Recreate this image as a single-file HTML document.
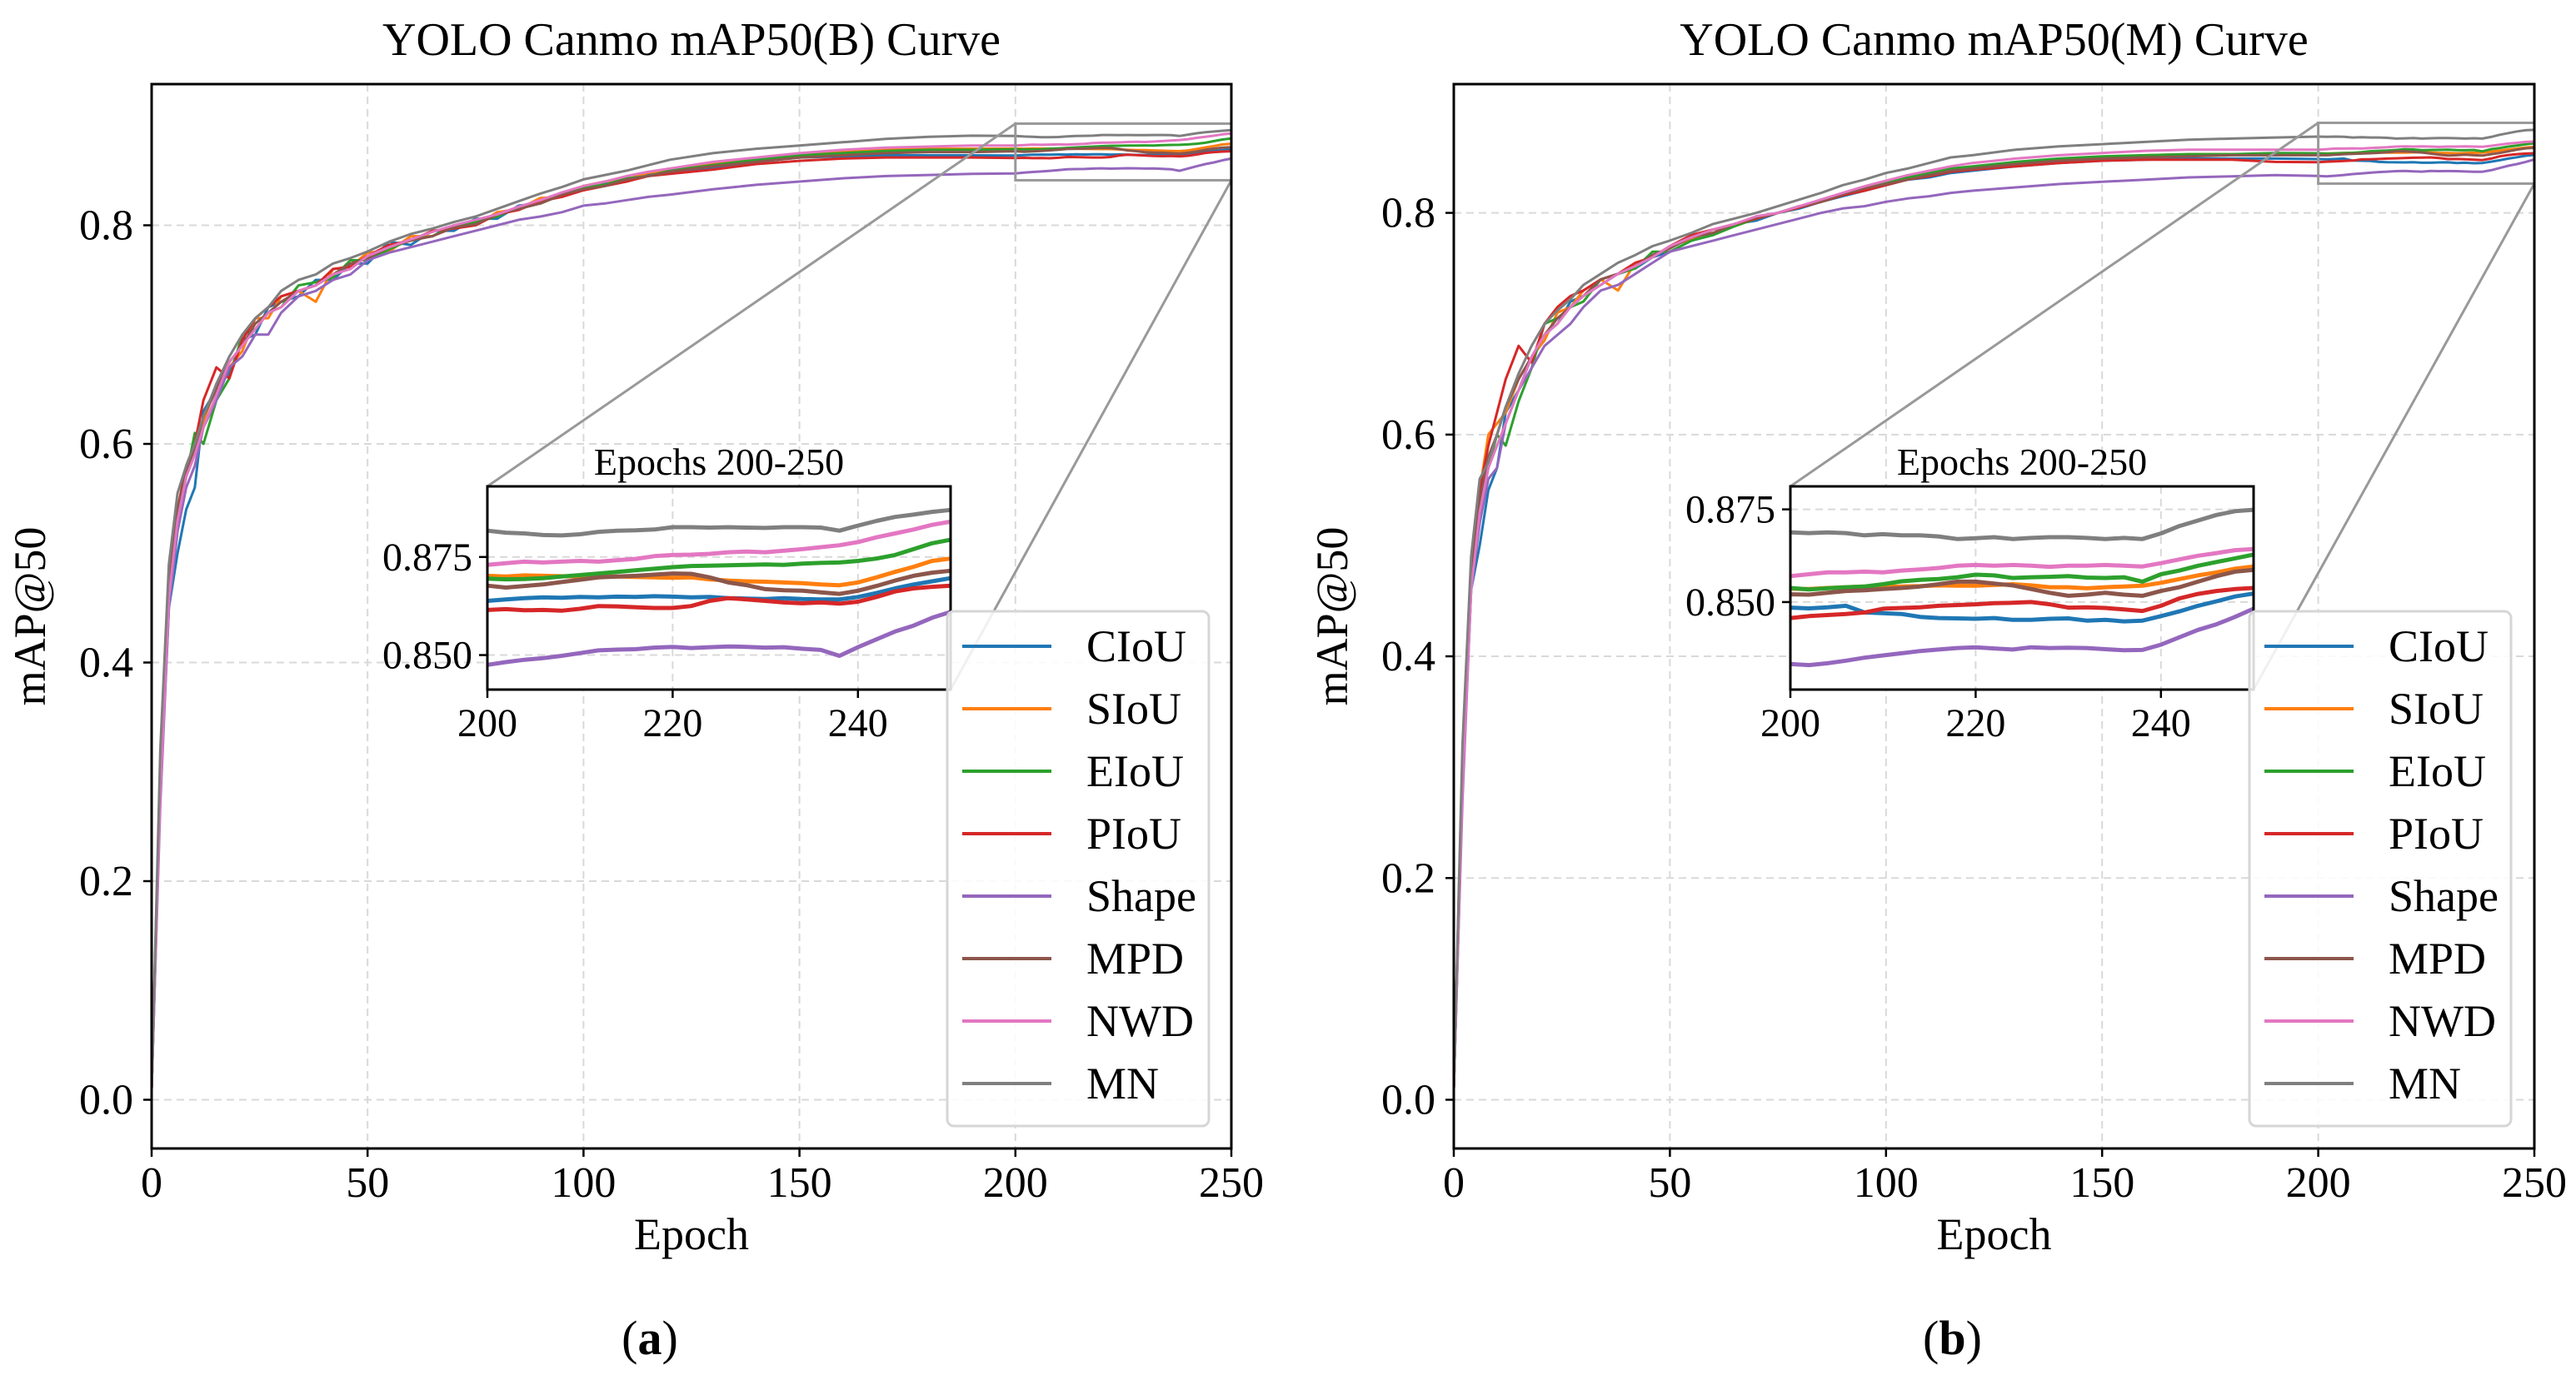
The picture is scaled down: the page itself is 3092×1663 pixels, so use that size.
<!DOCTYPE html>
<html><head><meta charset="utf-8"><style>
html,body{margin:0;padding:0;background:#fff;}
svg{display:block;font-family:"Liberation Serif","DejaVu Serif",serif;}
</style></head><body>
<svg id="fig" width="3092" height="1663" viewBox="0 0 3092 1663" xmlns="http://www.w3.org/2000/svg"></svg>
<script>
const seriesNames = ["CIoU","SIoU","EIoU","PIoU","Shape","MPD","NWD","MN"];
const seriesColors = ["#1f77b4","#ff7f0e","#2ca02c","#d62728","#9467bd","#8c564b","#e377c2","#7f7f7f"];
const mainEpochs = [0,2,4,6,8,10,12,15,18,21,24,27,30,34,38,42,46,50,55,60,65,70,75,80,85,90,95,100,105,110,115,120,130,140,150,160,170,180,190];
const insetEpochs = [200,202,204,206,208,210,212,214,216,218,220,222,224,226,228,230,232,234,236,238,240,242,244,246,248,250];
const xTicksMain = [0,50,100,150,200,250];
const yTicksMain = [0.0,0.2,0.4,0.6,0.8];
const yTickLabelsMain = ["0.0","0.2","0.4","0.6","0.8"];
const xTicksInset = [200,220,240];
const yTicksInset = [0.850,0.875];
const yTickLabelsInset = ["0.850","0.875"];

// Panel (a) mAP50(B)
const aCIoU  = [0.01,0.28,0.45,0.50,0.54,0.56,0.63,0.65,0.665,0.695,0.70,0.725,0.73,0.735,0.75,0.75,0.765,0.765,0.785,0.782,0.795,0.795,0.806,0.806,0.818,0.82,0.83,0.832,0.838,0.84,0.846,0.848,0.853,0.858,0.862,0.863,0.864,0.864,0.864];
const aSIoU  = [0.01,0.31,0.46,0.54,0.58,0.60,0.62,0.655,0.67,0.685,0.715,0.715,0.735,0.74,0.73,0.76,0.762,0.775,0.776,0.79,0.79,0.80,0.80,0.812,0.815,0.825,0.826,0.836,0.84,0.842,0.848,0.851,0.857,0.861,0.865,0.867,0.869,0.870,0.870];
const aEIoU  = [0.01,0.29,0.47,0.53,0.57,0.61,0.60,0.64,0.66,0.70,0.705,0.72,0.725,0.745,0.748,0.752,0.768,0.768,0.778,0.787,0.79,0.80,0.803,0.808,0.817,0.82,0.828,0.835,0.837,0.843,0.845,0.85,0.855,0.86,0.864,0.866,0.868,0.869,0.869];
const aPIoU  = [0.01,0.30,0.46,0.54,0.58,0.60,0.64,0.67,0.66,0.695,0.715,0.725,0.735,0.74,0.745,0.76,0.762,0.772,0.782,0.786,0.795,0.797,0.80,0.81,0.814,0.822,0.826,0.832,0.836,0.84,0.845,0.847,0.851,0.856,0.859,0.861,0.862,0.862,0.862];
const aShape = [0.01,0.27,0.45,0.52,0.56,0.58,0.615,0.64,0.67,0.68,0.70,0.70,0.72,0.735,0.74,0.75,0.755,0.768,0.775,0.78,0.785,0.79,0.795,0.80,0.805,0.808,0.812,0.818,0.82,0.823,0.826,0.828,0.833,0.837,0.84,0.843,0.845,0.846,0.847];
const aMPD   = [0.01,0.30,0.47,0.54,0.575,0.595,0.625,0.65,0.675,0.69,0.71,0.72,0.73,0.74,0.745,0.755,0.765,0.77,0.78,0.786,0.79,0.798,0.801,0.81,0.815,0.82,0.828,0.833,0.836,0.842,0.845,0.849,0.854,0.858,0.862,0.864,0.866,0.867,0.867];
const aNWD   = [0.01,0.28,0.46,0.53,0.57,0.59,0.615,0.645,0.675,0.69,0.705,0.72,0.725,0.74,0.745,0.755,0.76,0.772,0.78,0.787,0.794,0.80,0.805,0.81,0.817,0.823,0.83,0.836,0.84,0.845,0.849,0.852,0.858,0.862,0.866,0.869,0.871,0.872,0.873];
const aMN    = [0.01,0.32,0.49,0.555,0.58,0.60,0.625,0.655,0.68,0.70,0.715,0.725,0.74,0.75,0.755,0.765,0.77,0.776,0.785,0.792,0.797,0.803,0.808,0.815,0.822,0.829,0.835,0.842,0.846,0.85,0.855,0.86,0.866,0.87,0.873,0.876,0.879,0.881,0.882];
const aiCIoU  = [.8638,.8642,.8645,.8647,.8646,.8648,.8647,.8649,.8648,.8650,.8649,.8647,.8648,.8645,.8644,.8643,.8645,.8643,.8642,.8642,.8648,.8658,.8670,.8680,.8688,.8696];
const aiSIoU  = [.8702,.8700,.8703,.8702,.8701,.8700,.8701,.8700,.8699,.8698,.8697,.8698,.8693,.8690,.8688,.8687,.8685,.8683,.8680,.8678,.8685,.8698,.8712,.8725,.8740,.8746];
const aiEIoU  = [.8695,.8693,.8694,.8696,.8700,.8704,.8708,.8712,.8716,.8720,.8724,.8727,.8728,.8729,.8730,.8731,.8730,.8733,.8735,.8736,.8740,.8746,.8755,.8770,.8785,.8794];
const aiPIoU  = [.8615,.8617,.8614,.8615,.8613,.8618,.8625,.8624,.8622,.8620,.8620,.8625,.8638,.8645,.8642,.8638,.8634,.8632,.8634,.8631,.8636,.8648,.8662,.8670,.8674,.8677];
const aiShape = [.8475,.8482,.8488,.8492,.8498,.8505,.8512,.8514,.8515,.8519,.8521,.8518,.8520,.8522,.8521,.8519,.8520,.8516,.8513,.8498,.8520,.8540,.8560,.8575,.8595,.8610];
const aiMPD   = [.8677,.8672,.8676,.8680,.8686,.8692,.8698,.8700,.8702,.8705,.8708,.8707,.8698,.8685,.8678,.8668,.8665,.8664,.8660,.8656,.8664,.8676,.8690,.8702,.8710,.8715];
const aiNWD   = [.8730,.8734,.8738,.8736,.8738,.8740,.8738,.8742,.8745,.8752,.8755,.8756,.8758,.8762,.8764,.8762,.8766,.8770,.8775,.8780,.8788,.8800,.8810,.8820,.8832,.8840];
const aiMN    = [.8817,.8812,.8810,.8806,.8805,.8808,.8814,.8817,.8818,.8820,.8826,.8826,.8825,.8826,.8825,.8824,.8826,.8826,.8825,.8817,.8830,.8842,.8852,.8858,.8865,.8870];

// Panel (b) mAP50(M)
const bCIoU  = [0.01,0.28,0.46,0.50,0.55,0.57,0.62,0.64,0.67,0.69,0.70,0.72,0.725,0.735,0.745,0.75,0.76,0.765,0.775,0.78,0.79,0.793,0.80,0.804,0.81,0.815,0.82,0.825,0.83,0.832,0.836,0.838,0.842,0.845,0.847,0.848,0.849,0.849,0.849];
const bSIoU  = [0.01,0.31,0.47,0.55,0.60,0.61,0.62,0.65,0.67,0.685,0.71,0.715,0.73,0.74,0.73,0.755,0.76,0.77,0.776,0.785,0.788,0.795,0.80,0.805,0.81,0.817,0.82,0.826,0.83,0.835,0.838,0.841,0.845,0.848,0.85,0.852,0.853,0.853,0.853];
const bEIoU  = [0.01,0.29,0.47,0.53,0.57,0.60,0.59,0.63,0.66,0.70,0.705,0.715,0.72,0.74,0.745,0.75,0.765,0.765,0.775,0.78,0.788,0.795,0.80,0.806,0.81,0.816,0.822,0.828,0.832,0.836,0.84,0.842,0.846,0.849,0.851,0.852,0.853,0.853,0.854];
const bPIoU  = [0.01,0.30,0.47,0.55,0.59,0.62,0.65,0.68,0.665,0.70,0.715,0.725,0.73,0.74,0.745,0.755,0.76,0.77,0.78,0.785,0.79,0.795,0.80,0.805,0.81,0.816,0.82,0.825,0.83,0.833,0.837,0.839,0.842,0.845,0.847,0.848,0.848,0.848,0.846];
const bShape = [0.01,0.27,0.46,0.52,0.56,0.57,0.61,0.64,0.66,0.68,0.69,0.70,0.715,0.73,0.735,0.745,0.755,0.765,0.77,0.775,0.78,0.785,0.79,0.795,0.80,0.804,0.806,0.81,0.813,0.815,0.818,0.82,0.823,0.826,0.828,0.83,0.832,0.833,0.834];
const bMPD   = [0.01,0.30,0.47,0.54,0.58,0.60,0.625,0.65,0.67,0.69,0.705,0.715,0.725,0.74,0.745,0.752,0.762,0.768,0.778,0.782,0.79,0.796,0.80,0.806,0.81,0.817,0.822,0.826,0.83,0.834,0.838,0.84,0.844,0.847,0.849,0.85,0.851,0.852,0.852];
const bNWD   = [0.01,0.28,0.46,0.53,0.57,0.59,0.61,0.64,0.67,0.69,0.70,0.715,0.725,0.735,0.745,0.752,0.76,0.77,0.778,0.785,0.79,0.797,0.80,0.806,0.812,0.818,0.824,0.829,0.834,0.838,0.842,0.845,0.849,0.852,0.854,0.856,0.857,0.857,0.857];
const bMN    = [0.01,0.32,0.49,0.56,0.575,0.60,0.625,0.655,0.68,0.70,0.712,0.722,0.735,0.745,0.755,0.762,0.77,0.775,0.782,0.79,0.795,0.80,0.806,0.812,0.818,0.825,0.83,0.836,0.84,0.845,0.85,0.852,0.857,0.86,0.862,0.864,0.866,0.867,0.868];
const biCIoU  = [.8485,.8483,.8486,.8490,.8472,.8470,.8468,.8460,.8457,.8456,.8455,.8457,.8452,.8452,.8455,.8456,.8450,.8452,.8448,.8450,.8462,.8475,.8490,.8502,.8515,.8523];
const biSIoU  = [.8536,.8535,.8538,.8540,.8542,.8541,.8542,.8543,.8545,.8544,.8544,.8546,.8548,.8545,.8540,.8540,.8537,.8540,.8542,.8544,.8552,.8562,.8572,.8580,.8590,.8596];
const biEIoU  = [.8538,.8534,.8537,.8540,.8542,.8548,.8556,.8560,.8562,.8567,.8574,.8572,.8565,.8567,.8568,.8570,.8566,.8565,.8567,.8555,.8575,.8585,.8598,.8608,.8618,.8628];
const biPIoU  = [.8457,.8462,.8465,.8468,.8472,.8482,.8484,.8486,.8490,.8492,.8494,.8497,.8498,.8500,.8494,.8485,.8486,.8484,.8480,.8476,.8490,.8510,.8522,.8530,.8535,.8538];
const biShape = [.8333,.8330,.8335,.8342,.8350,.8356,.8362,.8368,.8372,.8376,.8378,.8375,.8372,.8378,.8376,.8377,.8376,.8373,.8370,.8371,.8385,.8405,.8425,.8440,.8460,.8482];
const biMPD   = [.8521,.8520,.8525,.8530,.8532,.8535,.8538,.8542,.8548,.8555,.8555,.8550,.8545,.8535,.8525,.8517,.8520,.8525,.8520,.8517,.8530,.8540,.8555,.8570,.8582,.8587];
const biNWD   = [.8570,.8575,.8580,.8580,.8582,.8580,.8585,.8588,.8592,.8598,.8600,.8598,.8600,.8598,.8595,.8598,.8598,.8600,.8598,.8596,.8605,.8615,.8625,.8632,.8640,.8643];
const biMN    = [.8688,.8686,.8688,.8686,.8680,.8683,.8680,.8680,.8677,.8670,.8672,.8675,.8670,.8673,.8675,.8675,.8673,.8670,.8673,.8670,.8685,.8705,.8720,.8735,.8745,.8749];

const panels = [
 {id:"a", title:"YOLO Canmo mAP50(B) Curve", label:"a",
  ax:{x0:182,x1:1478,y0:101,y1:1379, yv0:0.0, yp0:1320.5, yp1:270.5, yv1:0.8},
  inset:{x0:585,x1:1141,y0:584,y1:828, ymin:0.8412, ymax:0.893},
  legend:{x0:1137,x1:1451,y0:734,y1:1352},
  main:[aCIoU,aSIoU,aEIoU,aPIoU,aShape,aMPD,aNWD,aMN],
  ins:[aiCIoU,aiSIoU,aiEIoU,aiPIoU,aiShape,aiMPD,aiNWD,aiMN]},
 {id:"b", title:"YOLO Canmo mAP50(M) Curve", label:"b",
  ax:{x0:1745,x1:3042,y0:101,y1:1379, yv0:0.0, yp0:1320.5, yp1:255.6, yv1:0.8},
  inset:{x0:2149,x1:2705,y0:584,y1:828, ymin:0.8264, ymax:0.8812},
  legend:{x0:2700,x1:3014,y0:734,y1:1352},
  main:[bCIoU,bSIoU,bEIoU,bPIoU,bShape,bMPD,bNWD,bMN],
  ins:[biCIoU,biSIoU,biEIoU,biPIoU,biShape,biMPD,biNWD,biMN]}
];

const NS="http://www.w3.org/2000/svg";
const svg=document.getElementById("fig");
function mk(tag,attrs,parent,text){const e=document.createElementNS(NS,tag);for(const k in attrs)e.setAttribute(k,attrs[k]);if(text!==undefined)e.textContent=text;(parent||svg).appendChild(e);return e;}

panels.forEach(p=>{
  const A=p.ax;
  const g=mk("g",{});
  
  
  const sx=v=>A.x0+(v-0)/(250-0)*(A.x1-A.x0);
  const sy=v=>A.yp0+(v-A.yv0)/(A.yv1-A.yv0)*(A.yp1-A.yp0);
  const cx=(A.x0+A.x1)/2;
  // grid
  xTicksMain.forEach(t=>{const l=mk("line",{x1:sx(t),x2:sx(t),y1:A.y0,y2:A.y1,stroke:"#d9d9d9","stroke-width":2,"stroke-dasharray":"9,6"},g);
    
    });
  yTicksMain.forEach(t=>{const l=mk("line",{x1:A.x0,x2:A.x1,y1:sy(t),y2:sy(t),stroke:"#d9d9d9","stroke-width":2,"stroke-dasharray":"9,6"},g);
    
    });
  // series main
  p.main.forEach((arr,i)=>{
    const pts=[];mainEpochs.forEach((e,j)=>pts.push(sx(e).toFixed(1)+","+sy(arr[j]).toFixed(1)));
    insetEpochs.forEach((e,j)=>pts.push(sx(e).toFixed(1)+","+sy(p.ins[i][j]).toFixed(1)));
    const pl=mk("polyline",{points:pts.join(" "),fill:"none",stroke:seriesColors[i],"stroke-width":3,"stroke-linejoin":"round"},g);
    
    
  });
  // zoom rectangle
  const I=p.inset;
  const rx0=sx(200),rx1=sx(250),ry0=sy(I.ymax),ry1=sy(I.ymin);
  const zr=mk("rect",{x:rx0,y:ry0,width:rx1-rx0,height:ry1-ry0,fill:"none",stroke:"#999","stroke-width":3},g);
  
  
  const c1=mk("line",{x1:rx0,y1:ry0,x2:I.x0,y2:I.y0,stroke:"#999","stroke-width":3},g);
  
  
  const c2=mk("line",{x1:rx1,y1:ry1,x2:I.x1,y2:I.y1,stroke:"#999","stroke-width":3},g);
  
  
  // axes spine
  const sp=mk("rect",{x:A.x0,y:A.y0,width:A.x1-A.x0,height:A.y1-A.y0,fill:"none",stroke:"#000","stroke-width":3},g);
  
  
  xTicksMain.forEach(t=>{mk("line",{x1:sx(t),x2:sx(t),y1:A.y1,y2:A.y1+10,stroke:"#000","stroke-width":2.5},g);
    const tx=mk("text",{x:sx(t),y:A.y1+58,"font-size":52,"text-anchor":"middle"},g,String(t));
    
    });
  yTicksMain.forEach((t,k)=>{mk("line",{x1:A.x0-10,x2:A.x0,y1:sy(t),y2:sy(t),stroke:"#000","stroke-width":2.5},g);
    const tx=mk("text",{x:A.x0-22,y:sy(t)+17,"font-size":52,"text-anchor":"end"},g,yTickLabelsMain[k]);
    
    });
  const tt=mk("text",{x:cx,y:66,"font-size":56,"text-anchor":"middle"},g,p.title);
  
  
  const xl=mk("text",{x:cx,y:1500,"font-size":54,"text-anchor":"middle"},g,"Epoch");
  
  
  const ylx=A.x0-128, yly=(A.y0+A.y1)/2;
  const yl=mk("text",{x:ylx,y:yly,"font-size":54,"text-anchor":"middle",transform:`rotate(-90 ${ylx} ${yly})`},g,"mAP@50");
  
  
  const pl=mk("text",{x:cx-50,y:1626,"font-size":58,"text-anchor":"middle"},g);
  
  
  mk("tspan",{},pl,"(");mk("tspan",{"font-weight":"bold"},pl,p.label);mk("tspan",{},pl,")");

  // inset
  const ig=mk("g",{},g);
  
  
  const ix=v=>I.x0+(v-200)/50*(I.x1-I.x0);
  const iy=v=>I.y1-(v-I.ymin)/(I.ymax-I.ymin)*(I.y1-I.y0);
  mk("rect",{x:I.x0,y:I.y0,width:I.x1-I.x0,height:I.y1-I.y0,fill:"#fff"},ig);
  xTicksInset.forEach(t=>{mk("line",{x1:ix(t),x2:ix(t),y1:I.y0,y2:I.y1,stroke:"#d9d9d9","stroke-width":2,"stroke-dasharray":"9,6"},ig);
    mk("line",{x1:ix(t),x2:ix(t),y1:I.y1,y2:I.y1+10,stroke:"#000","stroke-width":2.5},ig);
    const tx=mk("text",{x:ix(t),y:I.y1+56,"font-size":48,"text-anchor":"middle"},ig,String(t));
    
    });
  yTicksInset.forEach((t,k)=>{mk("line",{x1:I.x0,x2:I.x1,y1:iy(t),y2:iy(t),stroke:"#d9d9d9","stroke-width":2,"stroke-dasharray":"9,6"},ig);
    mk("line",{x1:I.x0-10,x2:I.x0,y1:iy(t),y2:iy(t),stroke:"#000","stroke-width":2.5},ig);
    const tx=mk("text",{x:I.x0-18,y:iy(t)+16,"font-size":48,"text-anchor":"end"},ig,yTickLabelsInset[k]);
    
    });
  p.ins.forEach((arr,i)=>{
    const pts=insetEpochs.map((e,j)=>ix(e).toFixed(1)+","+iy(arr[j]).toFixed(1)).join(" ");
    const l=mk("polyline",{points:pts,fill:"none",stroke:seriesColors[i],"stroke-width":5,"stroke-linejoin":"round"},ig);
    
    
  });
  mk("rect",{x:I.x0,y:I.y0,width:I.x1-I.x0,height:I.y1-I.y0,fill:"none",stroke:"#000","stroke-width":3},ig);
  const it=mk("text",{x:(I.x0+I.x1)/2,y:I.y0-14,"font-size":46,"text-anchor":"middle"},ig,"Epochs 200-250");
  
  

  // legend
  const L=p.legend;
  const lg=mk("g",{},g);
  
  
  mk("rect",{x:L.x0,y:L.y0,width:L.x1-L.x0,height:L.y1-L.y0,rx:8,fill:"#fff","fill-opacity":0.85,stroke:"#d6d6d6","stroke-width":3},lg);
  seriesNames.forEach((n,i)=>{
    const yy=L.y0+42+i*75;
    const e=mk("g",{},lg);
    
    
    mk("line",{x1:L.x0+18,x2:L.x0+125,y1:yy,y2:yy,stroke:seriesColors[i],"stroke-width":4},e);
    mk("text",{x:L.x0+167,y:yy+18,"font-size":54},e,n);
  });
});
</script>
</body></html>
